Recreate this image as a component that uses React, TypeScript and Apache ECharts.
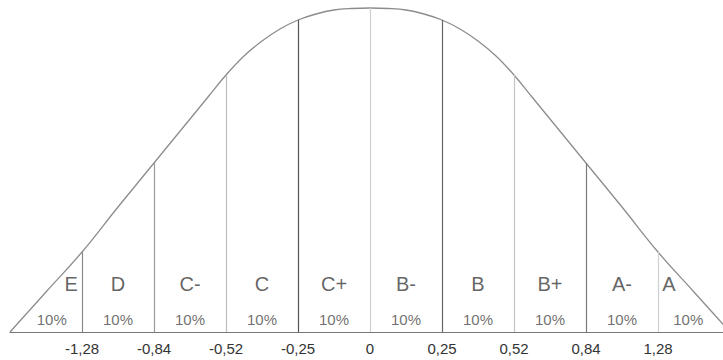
import React, { useEffect, useRef } from 'react';
import * as echarts from 'echarts';

// Decile band labels (left to right)
const gradeLabels = ['E', 'D', 'C-', 'C', 'C+', 'B-', 'B', 'B+', 'A-', 'A'];
const shareLabels = ['10%', '10%', '10%', '10%', '10%', '10%', '10%', '10%', '10%', '10%'];
// z-score boundaries shown under the band dividers
const zTickLabels = ['-1,28', '-0,84', '-0,52', '-0,25', '0', '0,25', '0,52', '0,84', '1,28'];
// Bell curve (x in band units, y = height above baseline)
const curveX = [0, 0.5, 1, 1.5, 2, 2.25, 2.5, 2.75, 3, 3.25, 3.5, 3.75, 4, 4.25, 4.5, 4.75, 5,
  5.25, 5.5, 5.75, 6, 6.25, 6.5, 6.75, 7, 7.25, 7.5, 7.75, 8, 8.5, 9, 9.5, 10];
const curveY = [0, 40, 80, 125, 169, 191, 213, 235, 257, 276, 291, 303, 312, 318, 322, 323.5, 324,
  323.5, 322, 318, 312, 303, 291, 276, 257, 235, 213, 191, 169, 125, 80, 40, 0];
const boundaryX = [1, 2, 3, 4, 5, 6, 7, 8, 9];

export default function App() {
  const ref = useRef<HTMLDivElement>(null);
  useEffect(() => {
    const chart = echarts.init(ref.current!, null, { renderer: 'svg' });
    const font = 'Liberation Sans, Arial, sans-serif';
    const dividerColors = ['#8a8a8a', '#9a9a9a', '#bdbdbd', '#555555', '#cfcfcf', '#666666', '#c4c4c4', '#7a7a7a', '#cfcfcf'];

    const dividers = boundaryX.map((u, i) => {
      const h = curveY[curveX.indexOf(u)];
      return [
        { coord: [u, 0], lineStyle: { color: dividerColors[i], width: 1.2, type: 'solid' } },
        { coord: [u, h] },
      ];
    });

    const letterPos = (i: number) => (i === 0 ? 0.85 : i === 9 ? 9.15 : i + 0.5);
    const sharePos = (i: number) => (i === 0 ? 0.58 : i === 9 ? 9.42 : i + 0.5);

    chart.setOption({
      animation: false,
      backgroundColor: '#ffffff',
      grid: { left: 10, top: 8, right: -7, height: 324, containLabel: false, outerBoundsMode: 'none' },
      xAxis: {
        type: 'value',
        min: 0,
        max: 10,
        interval: 1,
        axisLine: { show: true, lineStyle: { color: '#777', width: 1.2 } },
        axisTick: { show: false },
        splitLine: { show: false },
        axisLabel: {
          margin: 9,
          fontSize: 15,
          fontFamily: font,
          color: '#333',
          formatter: (v: number) => {
            const idx = boundaryX.indexOf(Math.round(v));
            return idx >= 0 ? zTickLabels[idx] : '';
          },
        },
      },
      yAxis: { type: 'value', min: 0, max: 324, show: false },
      series: [
        {
          type: 'line',
          data: curveX.map((x, i) => [x, curveY[i]]),
          smooth: 0.4,
          symbol: 'none',
          clip: false,
          lineStyle: { color: '#8c8c8c', width: 1.3 },
          silent: true,
          markLine: {
            silent: true,
            symbol: ['none', 'none'],
            label: { show: false },
            emphasis: { disabled: true },
            data: dividers,
          },
        },
        {
          type: 'scatter',
          symbolSize: 1,
          itemStyle: { color: 'transparent' },
          silent: true,
          clip: false,
          data: gradeLabels.map((g, i) => [letterPos(i), 48, g]),
          label: {
            show: true,
            position: 'inside',
            formatter: (p: any) => p.data[2],
            fontSize: 20,
            fontFamily: font,
            color: '#3c3c3c',
          },
        },
        {
          type: 'scatter',
          symbolSize: 1,
          itemStyle: { color: 'transparent' },
          silent: true,
          clip: false,
          data: shareLabels.map((s, i) => [sharePos(i), 13, s]),
          label: {
            show: true,
            position: 'inside',
            formatter: (p: any) => p.data[2],
            fontSize: 15,
            fontFamily: font,
            color: '#4a4a4a',
          },
        },
      ],
    });
    return () => chart.dispose();
  }, []);
  return <div ref={ref} style={{ position: 'fixed', left: 0, top: 0, width: 723, height: 360 }} />;
}
